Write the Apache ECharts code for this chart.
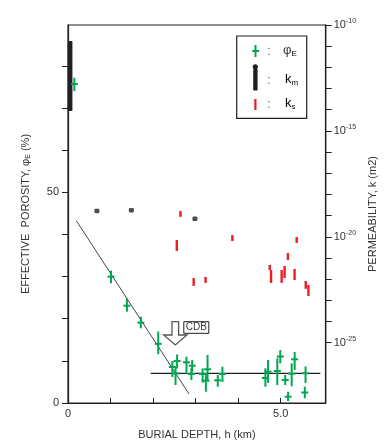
<!DOCTYPE html>
<html><head><meta charset="utf-8">
<script src="https://cdn.jsdelivr.net/npm/echarts@6/dist/echarts.min.js"></script>
<style>html,body{margin:0;padding:0;background:#fff}#c{width:386px;height:447px}</style>
</head><body><div id="c"></div>
<script>
// ---- Effective porosity phi_E (%) vs burial depth (km), with vertical error range
const phiDepth = [0.149, 1.012, 1.385, 1.712, 2.122, 2.453, 2.565, 2.528, 2.785, 2.920, 2.901, 3.165, 3.281, 3.242, 3.521, 3.631, 4.641, 4.704, 4.921, 4.991, 5.107, 5.175, 5.259, 5.329, 5.585, 5.567];
const phiValue = [75.7, 29.97, 23.09, 19.06, 14.05, 8.54, 9.97, 7.00, 9.66, 8.85, 6.88, 6.88, 8.00, 5.29, 5.39, 6.88, 5.93, 7.43, 7.59, 11.03, 5.46, 1.50, 6.95, 10.37, 7.05, 2.49];
const phiLow   = [74.0, 28.41, 21.67, 17.73, 11.58, 6.17, 8.19, 4.27, 6.88, 7.36, 5.46, 4.82, 5.46, 2.68, 3.87, 4.98, 3.87, 4.75, 4.27, 9.42, 4.27, 0.47, 3.96, 7.83, 4.75, 1.12];
const phiHigh  = [77.2, 31.40, 24.85, 20.48, 16.97, 9.97, 11.51, 8.61, 10.99, 10.20, 8.23, 8.23, 11.39, 7.05, 6.64, 8.61, 8.23, 10.20, 10.61, 12.58, 6.64, 2.68, 9.42, 12.10, 8.66, 3.87];

// ---- Matrix permeability k_m: log10(k, m2)
const kmDepth = [0.68, 1.49, 2.985];
const kmLog10 = [-18.78, -18.75, -19.15];
// k_m range at the surface (log10 k)
const kmRangeDepth = [0.05];
const kmRangeLow = [-14.06];
const kmRangeHigh = [-10.76];

// ---- Sample permeability k_s: log10 range
const ksDepth = [2.645, 2.558, 2.955, 3.235, 3.865, 4.743, 4.774, 5.023, 5.093, 5.170, 5.327, 5.376, 5.590, 5.653];
const ksLow   = [-19.06, -20.67, -22.32, -22.18, -20.20, -21.57, -22.18, -22.18, -21.95, -21.10, -22.04, -20.29, -22.46, -22.80];
const ksHigh  = [-18.78, -20.15, -21.95, -21.90, -19.92, -21.33, -21.57, -21.57, -21.38, -20.77, -21.52, -20.01, -22.09, -22.28];

// ---- Trend lines
const compactionLine = [[0.196, 43.26], [2.845, 2.14]];
const plateauLine = [[1.945, 7.05], [5.933, 7.05]];
const cdbPoint = [[2.523, 13.76]];

// ---- Axis ticks / labels
const xTicks = [0, 1, 2, 3, 4, 5];
const xLabels = [0, 5];
const yTicks = [0, 10, 20, 30, 40, 50, 60, 70, 80];
const yLabels = [0, 50];
const kTicks = [-10, -11, -12, -13, -14, -15, -16, -17, -18, -19, -20, -21, -22, -23, -24, -25];
const kLabels = [-10, -15, -20, -25];

const GREEN = '#00a651', RED = '#ed1c24', BLACK = '#231f20', TXT = '#333';
const FONT = '"Liberation Sans", Arial, sans-serif';

const chart = echarts.init(document.getElementById('c'));

const crossData = phiDepth.map((d, i) => [d, phiValue[i], phiLow[i], phiHigh[i]]);
const ksData = ksDepth.map((d, i) => [d, ksLow[i], ksHigh[i]]);
const kmRangeData = kmRangeDepth.map((d, i) => [d, kmRangeLow[i], kmRangeHigh[i]]);
const kmData = kmDepth.map((d, i) => [d, kmLog10[i]]);

chart.setOption({
  animation: false,
  grid: { left: 68, right: 58, top: 25, bottom: 44, show: true, borderColor: BLACK, borderWidth: 1.2, backgroundColor: 'transparent' },
  xAxis: {
    type: 'value', min: 0, max: 6.06,
    name: 'BURIAL DEPTH, h (km)', nameLocation: 'middle', nameGap: 26,
    nameTextStyle: { fontFamily: FONT, fontSize: 11, color: TXT },
    axisLine: { lineStyle: { color: BLACK, width: 1.2 } },
    axisTick: { inside: true, length: 5, lineStyle: { color: BLACK }, customValues: xTicks },
    axisLabel: { customValues: xLabels, margin: 5, fontFamily: FONT, fontSize: 11, color: TXT,
      formatter: v => v === 0 ? '0' : v.toFixed(1) },
    splitLine: { show: false }
  },
  yAxis: [{
    type: 'value', min: 0, max: 89.7, position: 'left',
    name: '{a|EFFECTIVE  POROSITY, φ}{s|E}{a| (%)}', nameLocation: 'middle', nameGap: 36, nameRotate: 90,
    nameTextStyle: { fontFamily: FONT, fontSize: 11, color: TXT,
      rich: { a: { fontFamily: FONT, fontSize: 11, color: TXT }, s: { fontFamily: FONT, fontSize: 7, color: TXT, padding: [5, 0, 0, 0] } } },
    axisLine: { show: true, lineStyle: { color: BLACK, width: 1.2 } },
    axisTick: { show: true, length: 6, lineStyle: { color: BLACK }, customValues: yTicks },
    axisLabel: { customValues: yLabels, margin: 9, fontFamily: FONT, fontSize: 11, color: TXT },
    splitLine: { show: false }
  }, {
    type: 'value', min: -27.85, max: -10, position: 'right',
    name: 'PERMEABILITY, k (m2)', nameLocation: 'middle', nameGap: 38, nameRotate: 90,
    nameTextStyle: { fontFamily: FONT, fontSize: 11, color: TXT },
    axisLine: { show: true, lineStyle: { color: BLACK, width: 1.2 } },
    axisTick: { show: true, length: 6, lineStyle: { color: BLACK }, customValues: kTicks },
    axisLabel: { customValues: kLabels, margin: 8, fontFamily: FONT, color: TXT,
      formatter: v => '{b|10}{e|' + v + '}',
      rich: { b: { fontFamily: FONT, fontSize: 11, color: TXT }, e: { fontFamily: FONT, fontSize: 7, color: TXT, padding: [0, 0, 7, 0] } } },
    splitLine: { show: false }
  }],
  series: [
    { type: 'line', data: compactionLine, showSymbol: false, symbol: 'none', lineStyle: { color: '#444', width: 1 }, z: 2 },
    { type: 'line', data: plateauLine, showSymbol: false, symbol: 'none', lineStyle: { color: BLACK, width: 1.2 }, z: 2 },
    { type: 'custom', yAxisIndex: 1, data: kmRangeData, encode: { x: 0, y: [1, 2] }, z: 3,
      renderItem: (p, api) => {
        const lo = api.coord([api.value(0), api.value(1)]);
        const hi = api.coord([api.value(0), api.value(2)]);
        return { type: 'rect', shape: { x: lo[0] - 2.3, y: hi[1], width: 4.6, height: lo[1] - hi[1], r: 1 }, style: { fill: BLACK } };
      } },
    { type: 'scatter', yAxisIndex: 1, data: kmData, symbol: 'roundRect', symbolSize: [5, 4.5], itemStyle: { color: BLACK }, z: 3 },
    { type: 'custom', yAxisIndex: 1, data: ksData, encode: { x: 0, y: [1, 2] }, z: 3,
      renderItem: (p, api) => {
        const lo = api.coord([api.value(0), api.value(1)]);
        const hi = api.coord([api.value(0), api.value(2)]);
        return { type: 'rect', shape: { x: lo[0] - 1.2, y: hi[1], width: 2.4, height: lo[1] - hi[1] }, style: { fill: RED } };
      } },
    { type: 'custom', data: crossData, encode: { x: 0, y: [1, 2, 3] }, z: 4,
      renderItem: (p, api) => {
        const c = api.coord([api.value(0), api.value(1)]);
        const lo = api.coord([api.value(0), api.value(2)]);
        const hi = api.coord([api.value(0), api.value(3)]);
        return { type: 'group', children: [
          { type: 'line', shape: { x1: c[0], y1: hi[1], x2: c[0], y2: lo[1] }, style: { stroke: GREEN, lineWidth: 2 } },
          { type: 'line', shape: { x1: c[0] - 3.5, y1: c[1], x2: c[0] + 3.5, y2: c[1] }, style: { stroke: GREEN, lineWidth: 2 } }
        ] };
      } },
    { type: 'custom', data: cdbPoint, encode: { x: 0, y: 1 }, z: 5,
      renderItem: (p, api) => {
        const t = api.coord([api.value(0), api.value(1)]);
        const x = t[0], y = t[1];
        return { type: 'group', children: [
          { type: 'polygon', shape: { points: [[x - 3.3, y - 23.3], [x + 3.3, y - 23.3], [x + 3.3, y - 10], [x + 11.7, y - 10], [x, y], [x - 11.7, y - 10], [x - 3.3, y - 10]] },
            style: { fill: '#fff', stroke: '#555', lineWidth: 1.3 } },
          { type: 'rect', shape: { x: x + 8.5, y: y - 23.3, width: 25, height: 11.6 }, style: { fill: '#fff', stroke: BLACK, lineWidth: 1 } },
          { type: 'text', style: { x: x + 21, y: y - 17.5, text: 'CDB', fontFamily: FONT, fontSize: 10, fill: TXT, align: 'center', verticalAlign: 'middle' } }
        ] };
      } }
  ],
  graphic: [
    { type: 'rect', shape: { x: 236.7, y: 36, width: 70, height: 82.3 }, style: { fill: '#fff', stroke: BLACK, lineWidth: 1.2 }, z: 10 },
    { type: 'line', shape: { x1: 255.5, y1: 45, x2: 255.5, y2: 57 }, style: { stroke: GREEN, lineWidth: 2 }, z: 11 },
    { type: 'line', shape: { x1: 252.3, y1: 51, x2: 259, y2: 51 }, style: { stroke: GREEN, lineWidth: 2 }, z: 11 },
    { type: 'circle', shape: { cx: 255.3, cy: 66.8, r: 2.6 }, style: { fill: BLACK }, z: 11 },
    { type: 'rect', shape: { x: 253.2, y: 69, width: 4.4, height: 21.5, r: 1 }, style: { fill: BLACK }, z: 11 },
    { type: 'rect', shape: { x: 254.3, y: 99, width: 2.2, height: 11 }, style: { fill: RED }, z: 11 },
    { type: 'text', style: { x: 269, y: 52, text: ':', fontFamily: FONT, fontSize: 12, fill: '#666', align: 'center', verticalAlign: 'middle' }, z: 11 },
    { type: 'text', style: { x: 269, y: 81, text: ':', fontFamily: FONT, fontSize: 12, fill: '#666', align: 'center', verticalAlign: 'middle' }, z: 11 },
    { type: 'text', style: { x: 269, y: 105, text: ':', fontFamily: FONT, fontSize: 12, fill: '#666', align: 'center', verticalAlign: 'middle' }, z: 11 },
    { type: 'text', style: { x: 283, y: 50, text: '{a|φ}{s|E}', verticalAlign: 'middle',
      rich: { a: { fontFamily: FONT, fontSize: 13, fill: TXT, color: TXT }, s: { fontFamily: FONT, fontSize: 8, color: TXT, padding: [8, 0, 0, 0] } } }, z: 11 },
    { type: 'text', style: { x: 285, y: 79, text: '{a|k}{s|m}', verticalAlign: 'middle',
      rich: { a: { fontFamily: FONT, fontSize: 13, color: TXT }, s: { fontFamily: FONT, fontSize: 8, color: TXT, padding: [8, 0, 0, 0] } } }, z: 11 },
    { type: 'text', style: { x: 285, y: 103, text: '{a|k}{s|s}', verticalAlign: 'middle',
      rich: { a: { fontFamily: FONT, fontSize: 13, color: TXT }, s: { fontFamily: FONT, fontSize: 8, color: TXT, padding: [8, 0, 0, 0] } } }, z: 11 }
  ]
});
</script>
</body></html>
